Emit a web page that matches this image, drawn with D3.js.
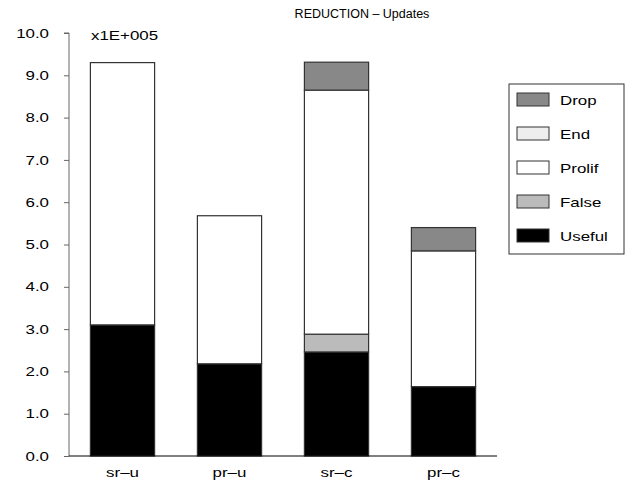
<!DOCTYPE html>
<html>
<head>
<meta charset="utf-8">
<script src="https://cdn.jsdelivr.net/npm/d3@7"></script>
<style>
  html, body { margin: 0; padding: 0; background: #fff; }
  svg { display: block; font-family: "Liberation Sans", Arial, sans-serif; }
</style>
</head>
<body>
<svg id="chart" width="630" height="485"></svg>
<script>
// Stacked bar chart: update counts (x1E+005) per configuration
const categories = ["sr\u2013u", "pr\u2013u", "sr\u2013c", "pr\u2013c"];
const seriesNames = ["Useful", "False", "Prolif", "End", "Drop"];
const useful = [3.10, 2.18, 2.46, 1.64];
const falseUpd = [0.00, 0.00, 0.42, 0.00];
const prolif = [6.20, 3.50, 5.77, 3.21];
const endUpd = [0.00, 0.00, 0.00, 0.00];
const drop = [0.00, 0.00, 0.66, 0.55];
const yTicks = [0, 1, 2, 3, 4, 5, 6, 7, 8, 9, 10];
const legendOrder = ["Drop", "End", "Prolif", "False", "Useful"];

const colors = {
  Useful: "#000000",
  False: "#bbbbbb",
  Prolif: "#ffffff",
  End: "#eeeeee",
  Drop: "#888888"
};

// labels use a horizontally widened face
const WIDEN = 1.3;
function widen(sel) {
  sel.each(function () {
    const t = d3.select(this);
    const xv = +t.attr("x") || 0;
    t.attr("x", xv / WIDEN).attr("transform", `scale(${WIDEN},1)`);
  });
}

const seriesValues = { Useful: useful, False: falseUpd, Prolif: prolif, End: endUpd, Drop: drop };
const rows = categories.map((c, i) => {
  const r = { cat: c };
  seriesNames.forEach(s => r[s] = seriesValues[s][i]);
  return r;
});

const svg = d3.select("#chart");
const plot = { left: 69, right: 497, top: 33, bottom: 456 };

const x = d3.scaleBand()
  .domain(categories)
  .range([plot.left, plot.right])
  .paddingInner(0.4)
  .paddingOuter(0.2);

const y = d3.scaleLinear().domain([0, 10]).range([plot.bottom, plot.top]);

const layers = d3.stack().keys(seriesNames)(rows);

// bars
svg.append("g").selectAll("g")
  .data(layers)
  .join("g")
  .attr("fill", d => colors[d.key])
  .selectAll("rect")
  .data(d => d.filter(p => p[1] - p[0] > 0))
  .join("rect")
  .attr("x", d => x(d.data.cat))
  .attr("width", x.bandwidth())
  .attr("y", d => y(d[1]))
  .attr("height", d => y(d[0]) - y(d[1]))
  .attr("stroke", "#333")
  .attr("stroke-width", 1.2);

// y axis
const yAxis = svg.append("g")
  .attr("transform", `translate(${plot.left},0)`)
  .call(d3.axisLeft(y).tickValues(yTicks).tickFormat(d3.format(".1f")).tickSize(5).tickPadding(15));
yAxis.select(".domain").attr("stroke", "#666").attr("d", `M-5,${plot.top}H0V${plot.bottom}`);
yAxis.selectAll(".tick line").attr("stroke", "#666");
yAxis.selectAll(".tick text").attr("font-size", 13).attr("fill", "#000")
  .attr("font-family", "Liberation Sans, Arial, sans-serif")
  .call(widen);

// x axis
const xAxis = svg.append("g")
  .attr("transform", `translate(0,${plot.bottom})`)
  .call(d3.axisBottom(x).tickSize(0).tickPadding(12));
xAxis.select(".domain").attr("stroke", "#000").attr("d", `M${plot.left},0H${plot.right}`);
xAxis.selectAll(".tick text").attr("font-size", 13).attr("fill", "#000")
  .attr("font-family", "Liberation Sans, Arial, sans-serif")
  .call(widen);

// title and multiplier
svg.append("text")
  .attr("x", 362).attr("y", 18)
  .attr("text-anchor", "middle")
  .attr("font-size", 12.5)
  .text("REDUCTION \u2013 Updates");

svg.append("text")
  .attr("x", 91).attr("y", 40)
  .attr("font-size", 13)
  .text("x1E+005")
  .call(widen);

// legend
const legend = svg.append("g");
legend.append("rect")
  .attr("x", 509).attr("y", 84).attr("width", 115).attr("height", 170)
  .attr("fill", "#fff").attr("stroke", "#333").attr("stroke-width", 1);
const items = legend.selectAll("g.item")
  .data(legendOrder)
  .join("g")
  .attr("class", "item")
  .attr("transform", (d, i) => `translate(517,${93 + i * 34})`);
items.append("rect")
  .attr("width", 32).attr("height", 13)
  .attr("fill", d => colors[d])
  .attr("stroke", "#333").attr("stroke-width", 1);
items.append("text")
  .attr("x", 43).attr("y", 11.5)
  .attr("font-size", 13)
  .text(d => d)
  .call(widen);
</script>
</body>
</html>
